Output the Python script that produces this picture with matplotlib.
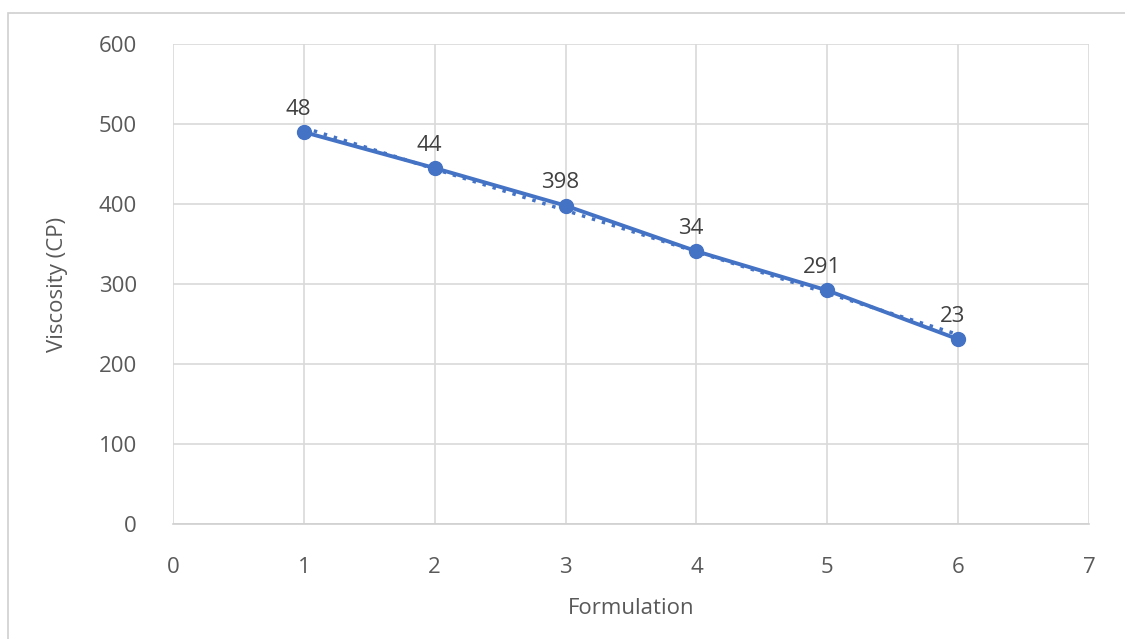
import matplotlib.pyplot as plt
import numpy as np

formulation = [1, 2, 3, 4, 5, 6]
viscosity = [490, 445, 398, 341, 292, 231]
point_labels = ["48", "44", "398", "34", "291", "23"]

x_ticks = [0, 1, 2, 3, 4, 5, 6, 7]
y_ticks = [0, 100, 200, 300, 400, 500, 600]

plt.rcParams["font.family"] = ["Open Sans", "DejaVu Sans"]

fig = plt.figure(figsize=(11.25, 6.39), dpi=100)
ax = fig.add_axes([0.1538, 0.18, 0.8142, 0.751])

# outer chart border
fig.add_artist(plt.Rectangle((0.007, -0.01), 1.0, 0.99, transform=fig.transFigure,
                             fill=False, edgecolor="#d0d0d0", linewidth=1.2))

blue = "#4472c4"

# linear trendline (dotted) under the series
coef = np.polyfit(formulation, viscosity, 1)
tx = np.array([formulation[0], formulation[-1]])
ax.plot(tx, np.polyval(coef, tx), linestyle=(0, (1, 2)), color=blue, linewidth=2.5, zorder=2)

ax.plot(formulation, viscosity, color=blue, linewidth=2.8, marker="o", markersize=10, zorder=3)

for x, y, lab in zip(formulation, viscosity, point_labels):
    ax.annotate(lab, (x, y), xytext=(-4, 9), textcoords="offset points",
                ha="center", va="bottom", fontsize=16, color="#404040")

ax.set_xlim(0, 7)
ax.set_ylim(0, 600)
ax.set_xticks(x_ticks)
ax.set_yticks(y_ticks)
ax.grid(True, color="#d9d9d9", linewidth=1.2)
ax.set_axisbelow(True)
for side in ["top", "right", "left"]:
    ax.spines[side].set_visible(False)
ax.spines["bottom"].set_color("#d0d0d0")
ax.spines["bottom"].set_linewidth(1.2)
ax.tick_params(length=0, labelsize=16, labelcolor="#595959")
ax.tick_params(axis="x", pad=24)
ax.tick_params(axis="y", pad=26)

ax.set_xlabel("Formulation", fontsize=16, color="#595959", labelpad=14)
ax.set_ylabel("Viscosity (CP)", fontsize=16, color="#595959", labelpad=22)

fig.savefig("out.png", dpi=100)
